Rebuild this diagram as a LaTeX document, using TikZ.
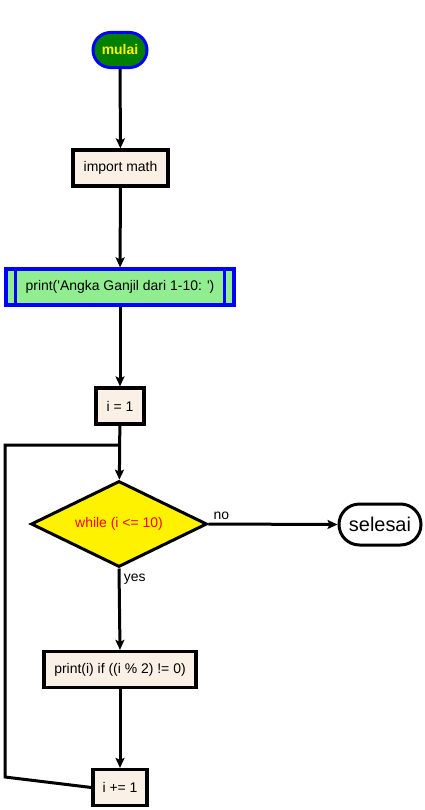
\documentclass[tikz,border=0pt]{standalone}
\usepackage{fontspec}
\setmainfont{Liberation Sans}
\usetikzlibrary{shapes.geometric,shapes.misc,arrows.meta}
\definecolor{linen}{RGB}{250,240,230}
\definecolor{startgreen}{RGB}{0,128,0}
\definecolor{lightgreen}{RGB}{144,238,144}

\begin{document}
\begin{tikzpicture}
[x=1bp,y=-1bp,
  textDecorate/.style={font=\fontsize{14}{16}\selectfont},%
  boxDecorate/.style={shape=rectangle,draw,line width=3.2bp,fill=linen,minimum height=36bp,inner sep=0pt,textDecorate},%
  termDecorate/.style={shape=rounded rectangle,draw,line width=3bp,inner sep=0pt},%
  lineDecorate/.style={line width=3bp,-{Stealth[length=10bp,width=9bp,inset=2bp]}},%
  loopDecorate/.style={line width=3bp}]
\useasboundingbox (0,0) rectangle (424,810);
%% nodes or vertices
\node (mulai) at (120,50) [termDecorate,draw=blue,fill=startgreen,minimum width=54bp,minimum height=35bp,text=yellow,font=\fontsize{14}{16}\selectfont\bfseries] {mulai};
\node (import) at (120.5,168) [boxDecorate,minimum width=95bp] {import math};
\node (print) at (120,287) [boxDecorate,draw=blue,fill=lightgreen,minimum width=228bp] {print(\textquotesingle Angka Ganjil dari 1-10: \textquotesingle)};
\draw[blue,line width=3.2bp] ([xshift=11bp]print.north west) -- ([xshift=11bp]print.south west)
  ([xshift=-11bp]print.north east) -- ([xshift=-11bp]print.south east);
\node (init) at (120,406) [boxDecorate,minimum width=48bp] {i = 1};
\node (while) at (119,524) [shape=diamond,draw,line width=3bp,fill=yellow,aspect=2,inner sep=0pt,minimum width=176bp,minimum height=86bp,text=red,textDecorate] {while (i <= 10)};
\node (selesai) at (380,524.5) [termDecorate,fill=white,minimum width=82bp,minimum height=41bp,font=\fontsize{20}{24}\selectfont] {selesai};
\node (printi) at (120,669.5) [boxDecorate,minimum width=152bp] {print(i) if ((i \% 2) != 0)};
\node (inc) at (120,787.5) [boxDecorate,minimum width=54bp] {i += 1};
\coordinate (corner) at (5,777);
\coordinate (join) at (120,445);
%% edges or lines
\path
\foreach \startnode/\endnode in {mulai/import, import/print, print/init, init/while, printi/inc}
{
  (\startnode) edge[lineDecorate] (\endnode)
};
\draw[lineDecorate] (while.east) -- node[above,pos=0.1,textDecorate] {no} (selesai.west);
\draw[lineDecorate] (while.south) -- node[right,pos=0.13,textDecorate] {yes} (printi.north);
\draw[loopDecorate] (inc.west) -- (corner) |- (join);
\end{tikzpicture}
\end{document}
